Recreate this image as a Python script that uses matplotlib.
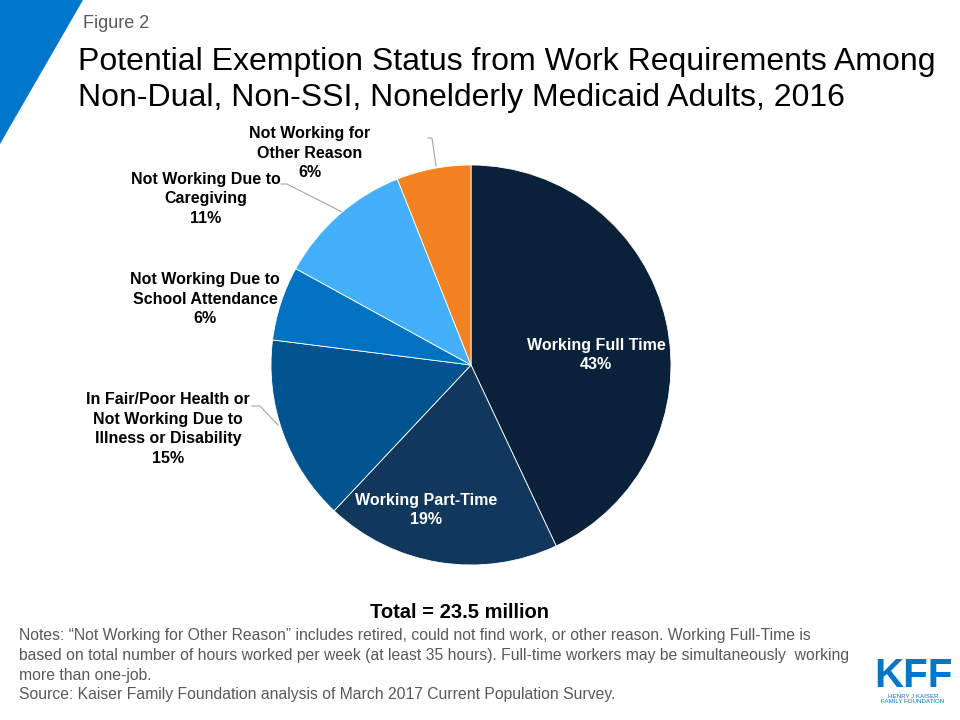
import matplotlib
matplotlib.use("Agg")
import matplotlib.pyplot as plt
from matplotlib.patches import Polygon

plt.rcParams['font.family'] = ['Liberation Sans', 'DejaVu Sans']

categories = ["Working Full Time", "Working Part-Time",
              "In Fair/Poor Health or\nNot Working Due to\nIllness or Disability",
              "Not Working Due to\nSchool Attendance",
              "Not Working Due to\nCaregiving",
              "Not Working for\nOther Reason"]
values = [43, 19, 15, 6, 11, 6]
colors = ["#0a2239", "#11375c", "#02548f", "#0171c2", "#44b0fb", "#f58220"]

W, H = 960, 720
fig = plt.figure(figsize=(9.6, 7.2), dpi=100)

def fx(x): return x / W
def fy(y): return 1 - y / H

# background decoration (triangle)
bg = fig.add_axes([0, 0, 1, 1])
bg.set_xlim(0, W); bg.set_ylim(H, 0); bg.axis('off')
bg.add_patch(Polygon([(0, 0), (83, 0), (0, 144)], closed=True, color="#0077c8", lw=0))

# leader lines
bg.plot([428, 432, 436], [138, 138, 166], color="#a6a6a6", lw=0.8)
bg.plot([281, 287, 342], [184, 184, 212], color="#a6a6a6", lw=0.8)
bg.plot([252, 260, 278], [406, 406, 425], color="#a6a6a6", lw=0.8)

# pie
cx, cy, r = 471, 365, 200
ax = fig.add_axes([fx(cx - r), fy(cy + r), 2 * r / W, 2 * r / H])
ax.pie(values, colors=colors, startangle=90, counterclock=False,
       wedgeprops=dict(edgecolor="white", linewidth=0.6))
ax.set_xlim(-1, 1); ax.set_ylim(-1, 1)
ax.set_aspect('auto')
ax.axis('off')

# labels
lab_style = dict(ha='center', va='center', fontsize=11.5, fontweight='bold', linespacing=1.4)
fig.text(fx(596), fy(355), f"{categories[0]}\n{values[0]}%", color='white', **lab_style)
fig.text(fx(426), fy(510), f"{categories[1]}\n{values[1]}%", color='white', **lab_style)
fig.text(fx(168), fy(429), f"{categories[2]}\n{values[2]}%", color='black', **lab_style)
fig.text(fx(205), fy(299), f"{categories[3]}\n{values[3]}%", color='black', **lab_style)
fig.text(fx(206), fy(199), f"{categories[4]}\n{values[4]}%", color='black', **lab_style)
fig.text(fx(310), fy(153), f"{categories[5]}\n{values[5]}%", color='black', **lab_style)

# titles
fig.text(fx(83), fy(23), "Figure 2", fontsize=13, color="#595959", va='center', ha='left')
fig.text(fx(78), fy(80), "Potential Exemption Status from Work Requirements Among\nNon-Dual, Non-SSI, Nonelderly Medicaid Adults, 2016",
         fontsize=23, color='black', va='center', ha='left', linespacing=1.3)

fig.text(fx(460), fy(612), "Total = 23.5 million", fontsize=14.5, fontweight='bold',
         ha='center', va='center')

notes = ("Notes: \u201cNot Working for Other Reason\u201d includes retired, could not find work, or other reason. Working Full-Time is\n"
         "based on total number of hours worked per week (at least 35 hours). Full-time workers may be simultaneously  working\n"
         "more than one-job.\n"
         "Source: Kaiser Family Foundation analysis of March 2017 Current Population Survey.")
fig.text(fx(19), fy(628), notes, fontsize=11.3, color="#595959", ha='left', va='top', linespacing=1.4)

# KFF logo
fig.text(fx(913), fy(676), "KFF", fontsize=29, fontweight='bold', color="#0077c8",
         ha='center', va='center')
fig.text(fx(913), fy(699), "HENRY J KAISER\nFAMILY FOUNDATION", fontsize=4.4, color="#0077c8",
         ha='center', va='center', linespacing=1.1)

fig.savefig("out.png", dpi=100)
